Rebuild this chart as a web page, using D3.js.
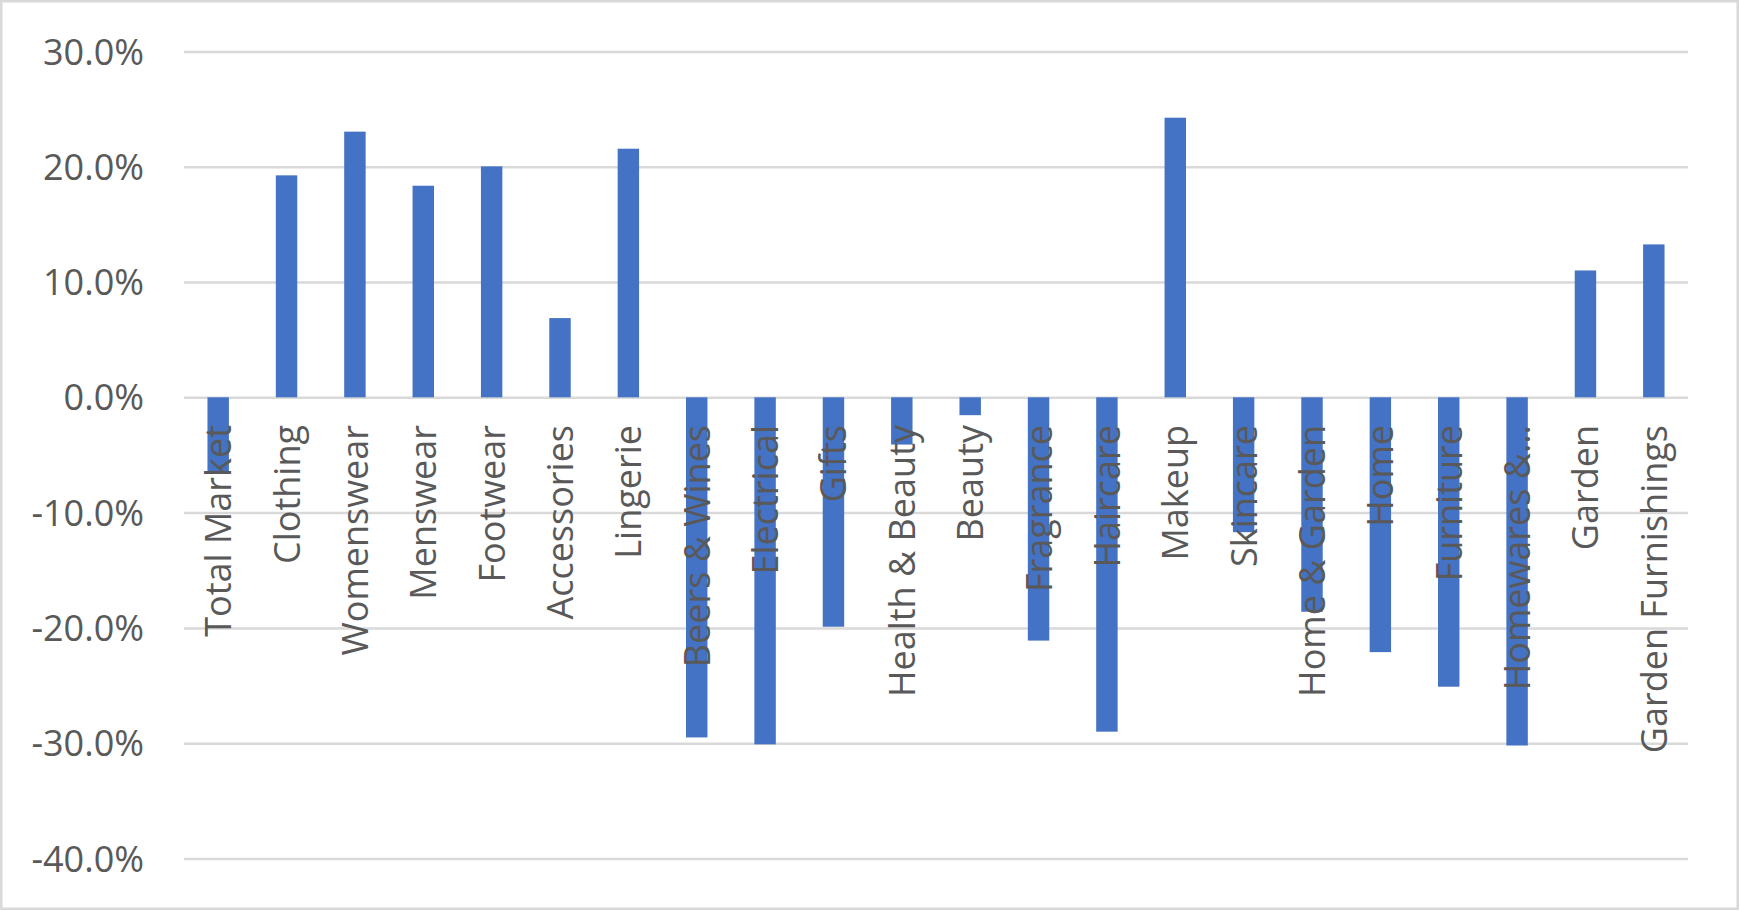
<!DOCTYPE html>
<html>
<head>
<meta charset="utf-8">
<script src="https://cdn.jsdelivr.net/npm/d3@7"></script>
<style>
  html, body { margin: 0; padding: 0; background: #ffffff; }
  svg { display: block; }
</style>
</head>
<body>
<svg id="chart" width="1740" height="911"></svg>
<script>
const categories = [
  "Total Market", "Clothing", "Womenswear", "Menswear", "Footwear", "Accessories",
  "Lingerie", "Beers & Wines", "Electrical", "Gifts", "Health & Beauty", "Beauty",
  "Fragrance", "Haircare", "Makeup", "Skincare", "Home & Garden", "Home",
  "Furniture", "Homewares &\u2026", "Garden", "Garden Furnishings"
];
const values = [
  -0.066, 0.1925, 0.2304, 0.1835, 0.2003, 0.0687,
  0.2156, -0.295, -0.301, -0.199, -0.041, -0.0155,
  -0.211, -0.290, 0.2425, -0.117, -0.186, -0.221,
  -0.251, -0.302, 0.110, 0.1326
];
const yTicks = [0.3, 0.2, 0.1, 0, -0.1, -0.2, -0.3, -0.4];

const W = 1740, H = 911;
const plot = { left: 184, right: 1688, top: 51.4, bottom: 858.5 };
const font = "'Open Sans', 'Noto Sans', sans-serif";
const textColor = "#595959";
const fontSize = 36;

const svg = d3.select("#chart");

// outer chart border
svg.append("rect")
  .attr("x", 1.25).attr("y", 1.25)
  .attr("width", 1736.5).attr("height", 907.5)
  .attr("fill", "#ffffff")
  .attr("stroke", "#D9D9D9")
  .attr("stroke-width", 2.5);

const x = d3.scaleBand()
  .domain(categories)
  .range([plot.left, plot.right])
  .paddingInner(0.6865)
  .paddingOuter(0.34325);

const y = d3.scaleLinear()
  .domain([-0.4, 0.3])
  .range([plot.bottom, plot.top]);

const pct = d => (d < 0 ? "-" : "") + (Math.abs(d) * 100).toFixed(1) + "%";

// gridlines + y labels via axis
const yAxis = d3.axisLeft(y)
  .tickValues(yTicks)
  .tickSize(-(plot.right - plot.left))
  .tickPadding(40)
  .tickFormat(pct);

const gy = svg.append("g")
  .attr("transform", `translate(${plot.left},0)`)
  .call(yAxis);
gy.select(".domain").remove();
gy.selectAll(".tick line")
  .attr("stroke", "#D9D9D9")
  .attr("stroke-width", 2.5);
gy.selectAll(".tick text")
  .attr("fill", textColor)
  .attr("font-family", font)
  .attr("font-size", fontSize)
  .attr("dy", "0.35em");

// bars
svg.append("g")
  .selectAll("rect")
  .data(values)
  .join("rect")
  .attr("x", (d, i) => x(categories[i]))
  .attr("width", x.bandwidth())
  .attr("y", d => Math.min(y(d), y(0)))
  .attr("height", d => Math.abs(y(d) - y(0)))
  .attr("fill", "#4472C4");

// category labels (rotated), drawn over bars
const xAxis = d3.axisBottom(x).tickSize(0).tickPadding(0);
const gx = svg.append("g")
  .attr("transform", `translate(0,${y(0)})`)
  .call(xAxis);
gx.select(".domain").remove();
gx.selectAll(".tick text")
  .attr("fill", textColor)
  .attr("font-family", font)
  .attr("font-size", fontSize)
  .attr("text-anchor", "end")
  .attr("transform", "rotate(-90)")
  .attr("x", -(425 - y(0)))
  .attr("y", 0)
  .attr("dy", "0.36em");
</script>
</body>
</html>
